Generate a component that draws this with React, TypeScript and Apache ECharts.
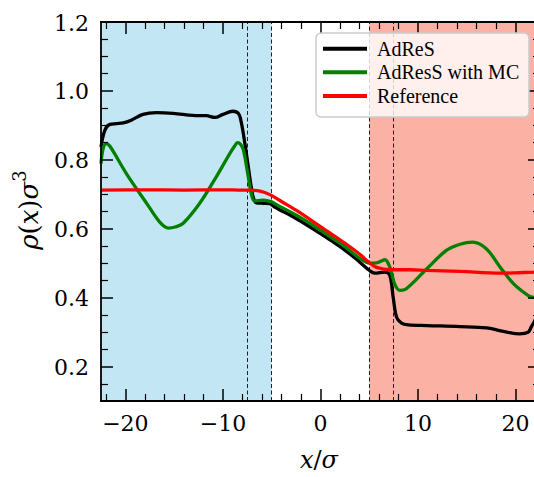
import React, { useEffect, useRef } from "react";
import * as echarts from "echarts";

const xMajor = [-20, -10, 0, 10, 20];
const xMinor = [-22, -18, -16, -14, -12, -8, -6, -4, -2, 2, 4, 6, 8, 12, 14, 16, 18, 22];
const yMajor = [0.2, 0.4, 0.6, 0.8, 1.0, 1.2];
const yMinor = [0.15, 0.25, 0.3, 0.35, 0.45, 0.5, 0.55, 0.65, 0.7, 0.75, 0.85, 0.9, 0.95, 1.05, 1.1, 1.15];

const adresX = [-22.5, -22.1, -21.6, -20.9, -20.2, -19.4, -18.2, -16.8, -15.1, -13.1, -11.7, -10.8, -10.0, -9.0, -8.4, -8.1, -7.75, -7.4, -7.1, -6.9, -6.56, -5.8, -5.2, -4.7, -2.46, 0, 0.95, 2.5, 4.03, 5.06, 5.56, 6.6, 7.1, 7.45, 7.8, 8.3, 9.0, 10.9, 14.3, 17.0, 19.1, 20.4, 21.3, 21.6, 22.0, 22.5];
const adresY = [0.837, 0.886, 0.903, 0.905, 0.907, 0.915, 0.932, 0.937, 0.935, 0.929, 0.928, 0.923, 0.932, 0.941, 0.934, 0.906, 0.847, 0.779, 0.721, 0.692, 0.675, 0.674, 0.673, 0.663, 0.629, 0.586, 0.568, 0.538, 0.503, 0.478, 0.471, 0.474, 0.465, 0.401, 0.343, 0.326, 0.321, 0.319, 0.316, 0.312, 0.300, 0.295, 0.300, 0.315, 0.335, 0.38];

const mcX = [-22.5, -22.3, -22.0, -21.6, -19.9, -17.8, -16.5, -15.6, -14.9, -14.1, -12.4, -10.7, -9.3, -8.8, -8.5, -8.2, -7.9, -7.4, -7.1, -6.75, -5.9, -5.0, -4.5, -2.46, 0, 0.95, 2.5, 4.03, 5.06, 5.74, 6.6, 7.1, 7.6, 8.13, 8.8, 10.9, 12.9, 14.3, 15.6, 17.0, 18.4, 19.8, 21.3, 21.8, 22.5];
const mcY = [0.789, 0.83, 0.847, 0.84, 0.76, 0.673, 0.62, 0.602, 0.605, 0.615, 0.673, 0.75, 0.818, 0.84, 0.85, 0.845, 0.828, 0.75, 0.702, 0.68, 0.683, 0.678, 0.67, 0.639, 0.596, 0.578, 0.548, 0.514, 0.5, 0.501, 0.51, 0.489, 0.44, 0.421, 0.426, 0.484, 0.537, 0.555, 0.561, 0.542, 0.489, 0.44, 0.406, 0.401, 0.4];

const refX = [-22.5, -18, -14, -10, -8, -7.25, -6.2, -5.2, -4.0, -2.46, 0, 0.95, 2.5, 4.03, 5.06, 5.74, 7.1, 9.16, 10.9, 14.3, 18.4, 20, 21.8, 22.5];
const refY = [0.712, 0.713, 0.712, 0.713, 0.712, 0.712, 0.709, 0.699, 0.679, 0.653, 0.606, 0.588, 0.558, 0.526, 0.5, 0.488, 0.481, 0.481, 0.479, 0.476, 0.471, 0.472, 0.474, 0.475];

const seriesNames = ["AdReS", "AdResS with MC", "Reference"];
const seriesColors = ["#000000", "#008000", "#ff0000"];
const regionBounds = [-22.5, -5, 5, 22.5];
const dashedLines = [-7.5, -5, 5, 7.5];

const MATH = "DejaVu Serif";
const TEXT = "Liberation Serif";

function pairs(xs: number[], ys: number[]) {
  return xs.map((x, i) => [x, ys[i]]);
}

let measureCtx: CanvasRenderingContext2D | null = null;
function measure(text: string, size: number, family: string, italic: boolean) {
  if (!measureCtx) measureCtx = document.createElement("canvas").getContext("2d");
  if (!measureCtx) return text.length * size * 0.6;
  measureCtx.font = `${italic ? "italic " : ""}${size}px "${family}"`;
  return measureCtx.measureText(text).width;
}

type Piece = { t: string; italic: boolean; size: number; dy: number };

function mathRow(pieces: Piece[]) {
  const widths = pieces.map((p) => measure(p.t, p.size, MATH, p.italic));
  const total = widths.reduce((a, b) => a + b, 0);
  let cursor = -total / 2;
  return pieces.map((p, i) => {
    const st: any = { text: p.t, fontFamily: MATH, fontSize: p.size, fill: "#000", verticalAlign: "middle" };
    if (p.italic) st.fontStyle = "italic";
    const el = { type: "text", x: cursor, y: p.dy, z: 50, style: st };
    cursor += widths[i];
    return el;
  });
}

export default function App() {
  const ref = useRef<HTMLDivElement>(null);
  useEffect(() => {
    if (!ref.current) return;
    const chart = echarts.init(ref.current, null, { renderer: "svg" });
    const xMin = -22.5, xMax = 22.5, yMin = 0.1, yMax = 1.2;
    const lineSty = { color: "#000", width: 1.8 };
    const tickSty = { color: "#000", width: 1.5 };
    const minorSty = { color: "#000", width: 1.2 };
    const mk = (pos: string, major: boolean, vals: number[], min: number, max: number) => ({
      type: "value", min, max, position: pos, z: 10,
      axisLine: { show: major, onZero: false, lineStyle: lineSty },
      axisTick: { show: true, inside: true, length: major ? 12 : 7, customValues: vals, lineStyle: major ? tickSty : minorSty },
      axisLabel: { show: false },
      splitLine: { show: false },
    });
    const xAxes = [
      mk("bottom", true, xMajor, xMin, xMax),
      mk("bottom", false, xMinor, xMin, xMax),
      mk("top", true, xMajor, xMin, xMax),
      mk("top", false, xMinor, xMin, xMax),
    ];
    const yAxes = [
      mk("left", true, yMajor, yMin, yMax),
      mk("left", false, yMinor, yMin, yMax),
      mk("right", true, yMajor, yMin, yMax),
      mk("right", false, yMinor, yMin, yMax),
    ];
    const dataSets = [pairs(adresX, adresY), pairs(mcX, mcY), pairs(refX, refY)];
    const option: any = {
      animation: false,
      backgroundColor: "#ffffff",
      grid: { left: 101, top: 22, right: -6, bottom: 76, containLabel: false, outerBoundsMode: "none" },
      xAxis: xAxes,
      yAxis: yAxes,
      series: [
        {
          name: "regions",
          type: "line",
          data: [],
          xAxisIndex: 0,
          yAxisIndex: 0,
          silent: true,
          markArea: {
            silent: true,
            z: 1,
            data: [
              [{ xAxis: regionBounds[0], itemStyle: { color: "#c3e6f4" } }, { xAxis: regionBounds[1] }],
              [{ xAxis: regionBounds[2], itemStyle: { color: "#fcb1a5" } }, { xAxis: regionBounds[3] }],
            ],
          },
          markLine: {
            silent: true,
            z: 2,
            symbol: ["none", "none"],
            label: { show: false },
            lineStyle: { type: [4, 2.5], color: "#222", width: 1 },
            data: dashedLines.map((v) => ({ xAxis: v })),
          },
        },
        ...seriesNames.map((name, i) => ({
          name,
          type: "line",
          data: dataSets[i],
          xAxisIndex: 0,
          yAxisIndex: 0,
          showSymbol: false,
          symbol: "none",
          smooth: 0.35,
          z: 3,
          lineStyle: { color: seriesColors[i], width: 3.3 },
          itemStyle: { color: seriesColors[i] },
        })),
      ],
    };
    chart.setOption(option);

    const graphics: any[] = [];
    xMajor.forEach((v) => {
      const px = chart.convertToPixel({ xAxisIndex: 0 }, v) as number;
      const label = v < 0 ? "\u2212" + Math.abs(v) : String(v);
      const w = measure(label, 22, MATH, false);
      graphics.push({
        type: "text",
        x: px - w / 2,
        y: 412,
        z: 50,
        style: { text: label, fontFamily: MATH, fontSize: 22, fill: "#000" },
      });
    });
    yMajor.forEach((v) => {
      const py = chart.convertToPixel({ yAxisIndex: 0 }, v) as number;
      const label = v.toFixed(1);
      const w = measure(label, 22, MATH, false);
      graphics.push({
        type: "text",
        x: 89 - w,
        y: py - 10,
        z: 50,
        style: { text: label, fontFamily: MATH, fontSize: 22, fill: "#000" },
      });
    });

    graphics.push({
      type: "group",
      x: 29,
      y: 210,
      rotation: Math.PI / 2,
      z: 50,
      children: mathRow([
        { t: "ρ", italic: true, size: 26, dy: 0 },
        { t: "(", italic: false, size: 26, dy: 0 },
        { t: "x", italic: true, size: 26, dy: 0 },
        { t: ")", italic: false, size: 26, dy: 0 },
        { t: "σ", italic: true, size: 26, dy: 0 },
        { t: "3", italic: false, size: 18, dy: -10 },
      ]),
    });
    graphics.push({
      type: "group",
      x: 319,
      y: 460,
      z: 50,
      children: mathRow([
        { t: "x", italic: true, size: 24, dy: 0 },
        { t: "/", italic: false, size: 24, dy: 0 },
        { t: "σ", italic: true, size: 24, dy: 0 },
      ]),
    });

    const rowY = [49.5, 73, 96.8];
    graphics.push({
      type: "rect",
      z: 60,
      shape: { x: 316, y: 33, width: 213, height: 84, r: 5 },
      style: { fill: "rgba(255,255,255,0.8)", stroke: "#cccccc", lineWidth: 1.5 },
    });
    seriesNames.forEach((n, i) => {
      graphics.push({
        type: "line",
        z: 61,
        shape: { x1: 323, y1: rowY[i] - 0.8, x2: 367, y2: rowY[i] - 0.8 },
        style: { stroke: seriesColors[i], lineWidth: 4 },
      });
      graphics.push({
        type: "text",
        x: 377,
        y: rowY[i] - 11,
        z: 61,
        style: { text: n, fontFamily: TEXT, fontSize: 20, fill: "#000" },
      });
    });

    chart.setOption({ graphic: graphics });
    return () => chart.dispose();
  }, []);
  return (
    <div
      ref={ref}
      style={{ position: "fixed", left: 0, top: 0, width: 534, height: 477, background: "#fff" }}
    />
  );
}
